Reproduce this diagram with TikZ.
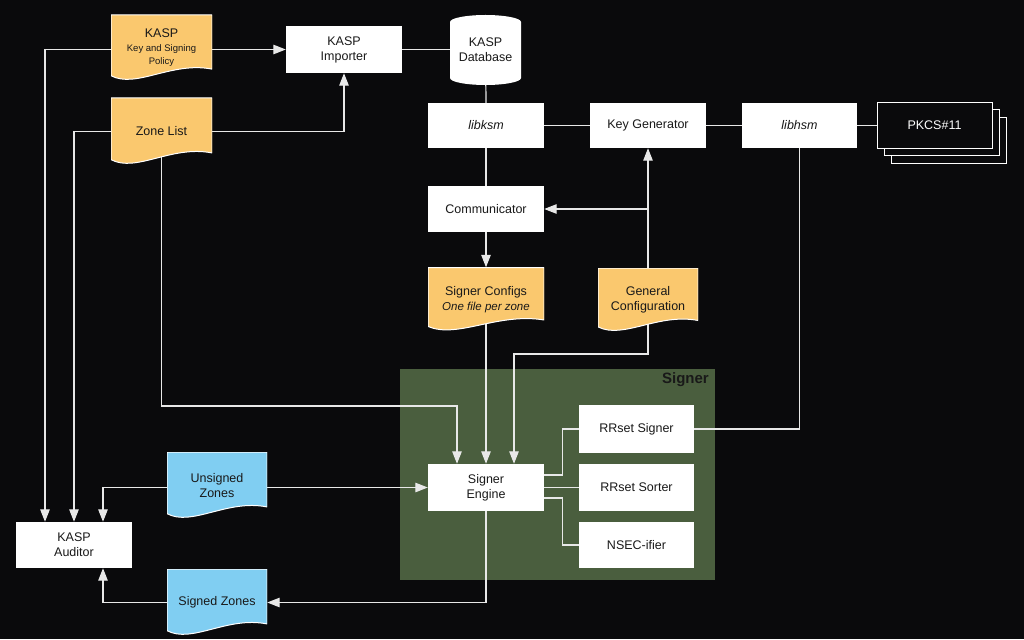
\documentclass[tikz,border=0pt]{standalone}
\usepackage{fontspec}
\setmainfont{Liberation Sans}
\usetikzlibrary{arrows.meta,calc}
\pgfdeclarelayer{bglayer}
\pgfdeclarelayer{grouplayer}
\pgfdeclarelayer{wirelayer}
\pgfsetlayers{bglayer,grouplayer,wirelayer,main}
\definecolor{bgc}{RGB}{10,10,12}
\definecolor{docorange}{RGB}{250,200,110}
\definecolor{docblue}{RGB}{128,206,242}
\definecolor{grp}{RGB}{74,94,62}
\definecolor{ink}{RGB}{25,25,25}
\definecolor{wire}{RGB}{232,232,232}
\newcommand\polsmall{\fontsize{9.5}{13}\selectfont}
\tikzset{
  mainfont/.style={font=\fontsize{12.5}{15}\selectfont},
  box/.style={rectangle, fill=white, text=ink, minimum width=116pt, minimum height=46pt,
    inner sep=0pt, align=center, mainfont},
  docnode/.style={rectangle, inner sep=0pt, align=center, text=ink, mainfont,
    path picture={
      \filldraw[fill=#1, draw=white, line width=1pt]
        let \p1=(path picture bounding box.north west),
            \p2=(path picture bounding box.south east),
            \n1={\x2-\x1}, \n2={\y1-\y2} in
        (\x1,\y1) -- (\x2,\y1) -- (\x2,{\y2+0.18*\n2})
        .. controls ({\x1+0.6*\n1},{\y2+0.3*\n2}) and ({\x1+0.25*\n1},{\y2-0.12*\n2}) ..
        (\x1,{\y2+0.08*\n2}) -- cycle;
    }},
  dbnode/.style={rectangle, inner sep=0pt, align=center, text=ink, mainfont,
    path picture={
      \fill[white]
        let \p1=(path picture bounding box.north west),
            \p2=(path picture bounding box.south east) in
        (\x1,{\y1-7pt}) -- (\x1,{\y2+7pt})
        arc[start angle=180, end angle=360, x radius=35.5pt, y radius=7pt]
        -- (\x2,{\y1-7pt})
        arc[start angle=0, end angle=180, x radius=35.5pt, y radius=7pt] -- cycle;
    }},
  stackbox/.style={rectangle, fill=bgc, draw=#1, line width=1pt, minimum width=115pt,
    minimum height=46pt, inner sep=0pt, text=white, mainfont},
  wire/.style={draw=wire, line width=1.2pt},
  arr/.style={wire, -{Triangle[length=12.5pt,width=9.5pt]}},
}
\begin{document}
\begin{tikzpicture}[x=1pt,y=-1pt]
\begin{pgfonlayer}{bglayer}
\fill[bgc] (0,0) rectangle (1024,639);
\end{pgfonlayer}
\useasboundingbox (0,0) rectangle (1024,639);

% group
\begin{pgfonlayer}{grouplayer}
\node[rectangle, fill=grp, minimum width=315pt, minimum height=211pt, inner sep=0pt] (grpbox) at (557.5,474.5) {};
\end{pgfonlayer}
\node[anchor=north east, text=ink, font=\fontsize{15}{18}\selectfont\bfseries, inner sep=0pt] (grplabel) at (709,372) {Signer};

% documents
\node[docnode=docorange, minimum width=101pt, minimum height=66pt] (pol) at (161.5,48)
  {KASP\\[-1pt]{\polsmall Key and Signing}\\[-2pt]{\polsmall Policy}};
\node[docnode=docorange, minimum width=101pt, minimum height=67pt] (zl) at (161.5,131.5) {Zone List};
\node[docnode=docorange, minimum width=116pt, minimum height=64pt] (sc) at (486,299.5)
  {Signer Configs\\{\itshape\fontsize{11.5}{14}\selectfont One file per zone}};
\node[docnode=docorange, minimum width=100pt, minimum height=64pt] (gc) at (648,300) {General\\Configuration};
\node[docnode=docblue, minimum width=100pt, minimum height=67pt] (uz) at (217,485.5) {Unsigned\\Zones};
\node[docnode=docblue, minimum width=100pt, minimum height=67pt] (szn) at (217,602.5) {Signed Zones};

% database
\node[dbnode, minimum width=71pt, minimum height=70pt] (db) at (485.5,50) {KASP\\Database};

% boxes
\node[box, minimum height=47pt] (imp) at (344,49.5) {KASP\\Importer};
\node[box, minimum height=45pt] (ksm) at (486,125.5) {\itshape libksm};
\node[box, minimum height=45pt] (kg) at (648,125.5) {Key Generator};
\node[box, minimum width=115pt, minimum height=45pt] (hsm) at (799.5,125.5) {\itshape libhsm};
\node[stackbox=white!70] (pk3) at (948.5,140.5) {};
\node[stackbox=white!80] (pk2) at (941.5,133) {};
\node[stackbox=white] (pk1) at (934.5,125.5) {PKCS\#11};
\node[box] (comm) at (486,209) {Communicator};
\node[box, minimum height=47pt] (eng) at (486,487.5) {Signer\\Engine};
\node[box, minimum width=115pt, minimum height=48pt] (rrsig) at (636.5,429) {RRset Signer};
\node[box, minimum width=115pt, minimum height=47pt] (rrsort) at (636.5,487.5) {RRset Sorter};
\node[box, minimum width=115pt, minimum height=46pt] (nsec) at (636.5,545) {NSEC-ifier};
\node[box] (aud) at (74,545) {KASP\\Auditor};

\coordinate (zlturn) at (161.5,406);
\coordinate (gcturn) at (648,354);

\begin{pgfonlayer}{wirelayer}
% top row
\draw[arr] (pol.east |- imp.west) -- (imp.west);
\draw[wire] (imp.east) -- (db.west |- imp.east);
\draw[wire] (db.center) -- (ksm.north);
\draw[wire] (ksm.east) -- (kg.west);
\draw[wire] (kg.east) -- (hsm.west);
\draw[wire] (hsm.east) -- (pk1.west);
\draw[wire] (ksm.south) -- (comm.north);
\draw[arr] (comm.south) -- (sc.north);
% zone list
\draw[arr] (zl.east) -| (imp.south);
\draw[arr] (zl.west) -| (aud.north);
\draw[arr] (pol.west |- imp.west) -| ([xshift=-29pt]aud.north);
\draw[arr] (zl.center) -- (zlturn) -| ([xshift=-29pt]eng.north);
% general configuration
\draw[arr] (gc.north) -- (kg.south);
\draw[arr] (gc.north |- comm.east) -- (comm.east);
\draw[arr] (gc.center) -- (gcturn) -| ([xshift=28pt]eng.north);
\draw[arr] (sc.center) -- (eng.north);
% libhsm to signer
\draw[wire] (hsm.south) |- (rrsig.east);
% engine internals
\draw[wire] ([yshift=12.5pt]eng.east) -- ++(18,0) |- (rrsig.west);
\draw[wire] (eng.east) -- (rrsort.west);
\draw[wire] ([yshift=-10.5pt]eng.east) -- ++(18,0) |- (nsec.west);
% zones
\draw[arr] (uz.east |- eng.west) -- (eng.west);
\draw[arr] (uz.west |- eng.west) -| ([xshift=29pt]aud.north);
\draw[arr] (eng.south) |- (szn.east);
\draw[arr] (szn.west) -| ([xshift=29pt]aud.south);
\end{pgfonlayer}
\end{tikzpicture}
\end{document}
